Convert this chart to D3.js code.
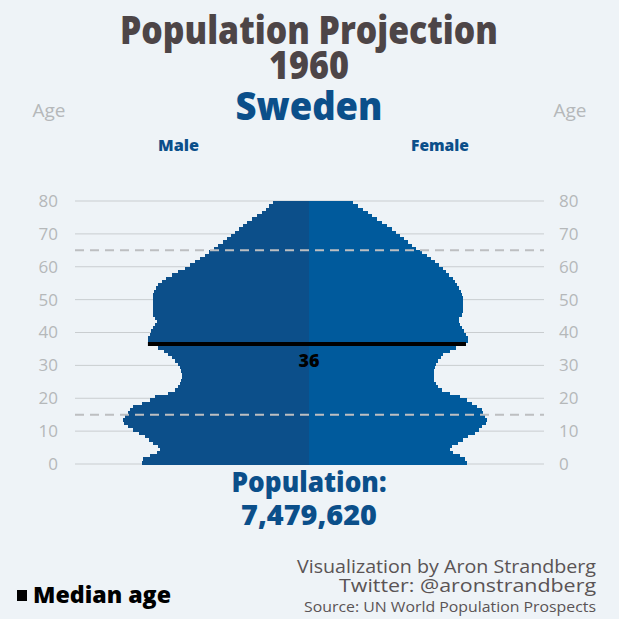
<!DOCTYPE html>
<html>
<head>
<meta charset="utf-8">
<script src="https://cdn.jsdelivr.net/npm/d3@7"></script>
<style>
  html, body { margin: 0; padding: 0; background: #eef3f7; }
  svg { display: block; }
  text { font-family: "Open Sans", "Noto Sans", sans-serif; }
</style>
</head>
<body>
<svg id="chart" width="619" height="619"></svg>
<script>
// ---- Data (Sweden, 1960) ----
const ages = d3.range(0, 80);
const male = [
  57100, 56800, 54400, 52000, 50900, 51600, 53300, 54700, 56100, 58100,
  60200, 61900, 63200, 63600, 62900, 61900, 61200, 60200, 57100, 54400,
  52600, 48200, 45800, 44800, 44100, 43600, 43400, 43400, 43600, 44100,
  44800, 45800, 46800, 48200, 49600, 51600, 53700, 55000, 55000, 54400,
  54000, 53300, 52600, 52100, 52600, 53400, 53400, 53400, 53400, 53400,
  53300, 53200, 52900, 52300, 51500, 50400, 48900, 46900, 44700, 42400,
  40700, 39000, 37300, 35600, 34100, 32500, 31000, 29500, 28100, 26800,
  25300, 23800, 22500, 21100, 19600, 17900, 16200, 14800, 13600, 12200
];
const female = [
  54000, 53300, 51600, 49200, 48200, 48900, 50900, 52600, 54400, 56800,
  58100, 59100, 60500, 60900, 60200, 59500, 59100, 57400, 55700, 54000,
  51600, 48200, 45500, 44100, 43400, 42700, 42700, 42700, 42700, 43100,
  43400, 44100, 45100, 45800, 48200, 50300, 52300, 54400, 54400, 53700,
  53000, 52300, 51600, 51300, 51300, 52300, 52600, 52600, 52600, 52600,
  52600, 52300, 52000, 51300, 50600, 49900, 49200, 47900, 46800, 45800,
  44400, 43100, 41700, 40300, 38600, 36600, 35200, 33800, 32500, 31100,
  29700, 28400, 26700, 25000, 23200, 21500, 20200, 18500, 16800, 15000
];
const ageTicks = [0, 10, 20, 30, 40, 50, 60, 70, 80];
const dashedAges = [15, 65];
const medianAge = 36;
const totalPopulation = 7479620;
const titleLines = ["Population Projection", "1960"];
const country = "Sweden";
const sexLabels = ["Male", "Female"];
const credits = ["Visualization by Aron Strandberg", "Twitter: @aronstrandberg"];
const sourceText = "Source: UN World Population Prospects";
const legendText = "Median age";

// ---- Layout ----
const cx = 309;
const gridLeft = 75, gridRight = 544;
const maleColor = "#0c4f8a", femaleColor = "#005a9c", textBlue = "#0b4f8a";
const svg = d3.select("#chart");

const y = d3.scaleLinear().domain([0, 80]).range([464, 201]);
const xw = d3.scaleLinear().domain([0, 80000]).range([0, 234]);

function label(opts) {
  const t = svg.append("text")
    .attr("x", opts.x).attr("y", opts.y)
    .attr("text-anchor", opts.anchor || "middle")
    .attr("font-size", opts.size)
    .attr("font-weight", opts.weight || 400)
    .attr("fill", opts.fill)
    .text(opts.text);
  if (opts.len) t.attr("textLength", opts.len).attr("lengthAdjust", "spacingAndGlyphs");
  return t;
}

// gridlines
svg.append("g").selectAll("line").data(ageTicks).join("line")
  .attr("x1", gridLeft).attr("x2", gridRight)
  .attr("y1", d => y(d)).attr("y2", d => y(d))
  .attr("stroke", "#c9cdd0").attr("stroke-width", 1);

// tick labels
const tickFont = 17;
svg.append("g").selectAll("text").data(ageTicks).join("text")
  .attr("x", 58).attr("y", d => y(d)).attr("dy", "0.35em")
  .attr("text-anchor", "end").attr("font-size", tickFont).attr("fill", "#b5b8ba")
  .text(d => d);
svg.append("g").selectAll("text").data(ageTicks).join("text")
  .attr("x", 559).attr("y", d => y(d)).attr("dy", "0.35em")
  .attr("text-anchor", "start").attr("font-size", tickFont).attr("fill", "#b5b8ba")
  .text(d => d);

// bars
const bars = svg.append("g").attr("shape-rendering", "crispEdges");
bars.append("g").selectAll("rect").data(ages).join("rect")
  .attr("x", a => cx - xw(male[a]))
  .attr("width", a => xw(male[a]))
  .attr("y", a => y(a + 1))
  .attr("height", a => y(a) - y(a + 1) + 0.6)
  .attr("fill", maleColor);
bars.append("g").selectAll("rect").data(ages).join("rect")
  .attr("x", cx)
  .attr("width", a => xw(female[a]))
  .attr("y", a => y(a + 1))
  .attr("height", a => y(a) - y(a + 1) + 0.6)
  .attr("fill", femaleColor);

// dashed lines
svg.append("g").selectAll("line").data(dashedAges).join("line")
  .attr("x1", gridLeft).attr("x2", gridRight)
  .attr("y1", d => y(d)).attr("y2", d => y(d))
  .attr("stroke", "#bdbfc1").attr("stroke-width", 2)
  .attr("stroke-dasharray", "9,6");

// median line
const my = (y(medianAge) + y(medianAge + 1)) / 2;
svg.append("line")
  .attr("x1", cx - xw(male[medianAge]) - 4).attr("x2", cx + xw(female[medianAge]) + 4)
  .attr("y1", my).attr("y2", my)
  .attr("stroke", "#000").attr("stroke-width", 4);
label({x: cx, y: 367, size: 17, weight: 800, fill: "#000", text: String(Math.floor(medianAge)), len: 21});

// titles
label({x: cx, y: 44, size: 39, weight: 800, fill: "#4d4547", text: titleLines[0], len: 378});
label({x: cx, y: 79, size: 39, weight: 800, fill: "#4d4547", text: titleLines[1], len: 80});
label({x: cx, y: 120, size: 39, weight: 800, fill: textBlue, text: country, len: 147});

// Age labels
label({x: 49, y: 117, size: 19, fill: "#b5b8ba", text: "Age", len: 33});
label({x: 570, y: 117, size: 19, fill: "#b5b8ba", text: "Age", len: 33});

// sex labels
label({x: 178.5, y: 151, size: 16, weight: 800, fill: textBlue, text: sexLabels[0], len: 41});
label({x: 440, y: 151, size: 16, weight: 800, fill: textBlue, text: sexLabels[1], len: 58});

// population
label({x: cx, y: 492, size: 28, weight: 800, fill: textBlue, text: "Population:", len: 155});
label({x: cx, y: 525, size: 28, weight: 800, fill: textBlue, text: d3.format(",")(totalPopulation), len: 136});

// credits
label({x: 596, y: 573, size: 18, anchor: "end", fill: "#5a5455", text: credits[0], len: 299});
label({x: 596, y: 592, size: 18, anchor: "end", fill: "#5a5455", text: credits[1], len: 257});
label({x: 596, y: 612, size: 15, anchor: "end", fill: "#5a5455", text: sourceText, len: 292});

// legend
svg.append("rect").attr("x", 17).attr("y", 590).attr("width", 10).attr("height", 11).attr("fill", "#000");
label({x: 33, y: 603, size: 23, weight: 800, anchor: "start", fill: "#000", text: legendText, len: 138});
</script>
</body>
</html>
